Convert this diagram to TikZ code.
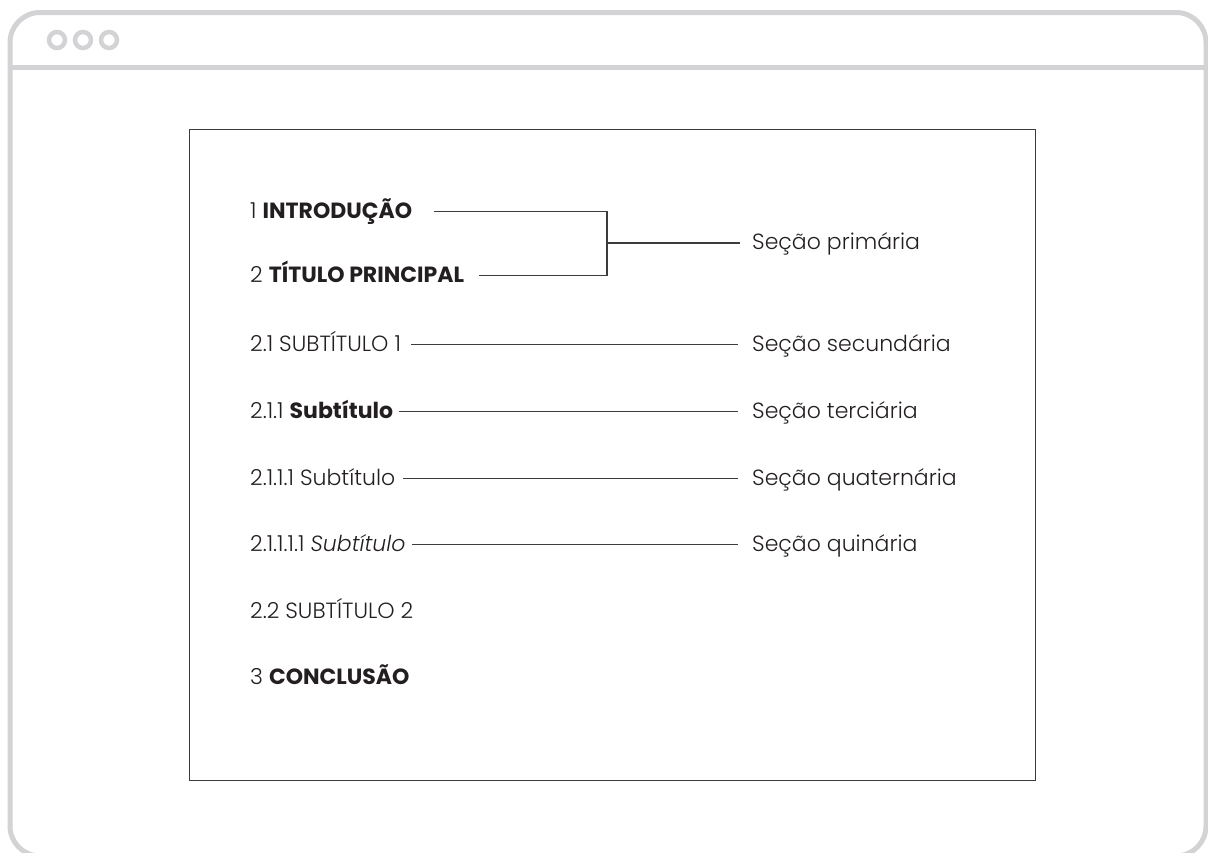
\documentclass[tikz,border=0pt]{standalone}
\usepackage{fontspec}
\setmainfont{Poppins}[UprightFont={* Light}, ItalicFont={* Light Italic},
  BoldFont={* Bold}]
\usepackage{tikz}
\usetikzlibrary{positioning, calc}
\definecolor{framegray}{RGB}{211,211,213}
\definecolor{inkdark}{RGB}{35,31,32}
\definecolor{guidegray}{RGB}{60,60,60}
\tikzset{
  sectext/.style={anchor=south west, inner sep=0pt, text height=15pt, text depth=0pt,
    font=\fontsize{22}{26}\selectfont, text=inkdark},
  seclabel/.style={sectext},
  guide/.style={line width=1.3pt, color=guidegray},
  frame/.style={line width=5pt, color=framegray},
  dot/.style={circle, draw=framegray, line width=4.5pt, minimum size=16pt, inner sep=0pt}
}

\begin{document}
\begin{tikzpicture}[x=1pt, y=-1pt]
  \useasboundingbox (0,0) rectangle (1208,852);
  \clip (0,0) rectangle (1208,852);
  % browser window
  \draw[frame, rounded corners=30pt] (10,12.5) rectangle (1206,856);
  \draw[frame] (10,67.5) -- (1206,67.5);
  \node[dot] (d1) at (57,40) {};
  \node[dot, right=5.5pt of d1] (d2) {};
  \node[dot, right=5.5pt of d2] (d3) {};
  % page
  \node[draw=guidegray, line width=1.3pt, inner sep=0pt, minimum width=846pt,
    minimum height=651pt, anchor=north west] (page) at (189,129) {};
  % headings
  \node[sectext] (r1) at (250,219) {1 \textbf{INTRODUÇÃO}};
  \node[sectext] (r2) at (250,283) {2 \textbf{TÍTULO PRINCIPAL}};
  \node[sectext] (r3) at (250,352) {2.1 SUBTÍTULO 1};
  \node[sectext] (r4) at (250,419) {2.1.1 \textbf{Subtítulo}};
  \node[sectext] (r5) at (250,486) {2.1.1.1 Subtítulo};
  \node[sectext] (r6) at (250,552) {2.1.1.1.1 \textit{Subtítulo}};
  \node[sectext] (r7) at (250,619) {2.2 SUBTÍTULO 2};
  \node[sectext] (r8) at (250,685) {3 \textbf{CONCLUSÃO}};
  % labels
  \node[seclabel] (l1) at (752,250) {Seção primária};
  \node[seclabel] (l3) at (752,352) {Seção secundária};
  \node[seclabel] (l4) at (752,419) {Seção terciária};
  \node[seclabel] (l5) at (752,486) {Seção quaternária};
  \node[seclabel] (l6) at (752,552) {Seção quinária};
  % bracket
  \coordinate (brk) at (607,243);
  \draw[guide] ([xshift=22pt]r1.east) -| (brk) |- ([xshift=15pt]r2.east);
  \draw[guide, shorten >=12pt] (brk) -- (brk -| l1.west);
  % connectors
  \draw[guide, shorten <=10pt, shorten >=14pt] (r3.east) -- (l3.west);
  \draw[guide, shorten <=6pt, shorten >=14pt] (r4.east) -- (l4.west);
  \draw[guide, shorten <=8pt, shorten >=14pt] (r5.east) -- (l5.west);
  \draw[guide, shorten <=6pt, shorten >=14pt] (r6.east) -- (l6.west);
\end{tikzpicture}
\end{document}
